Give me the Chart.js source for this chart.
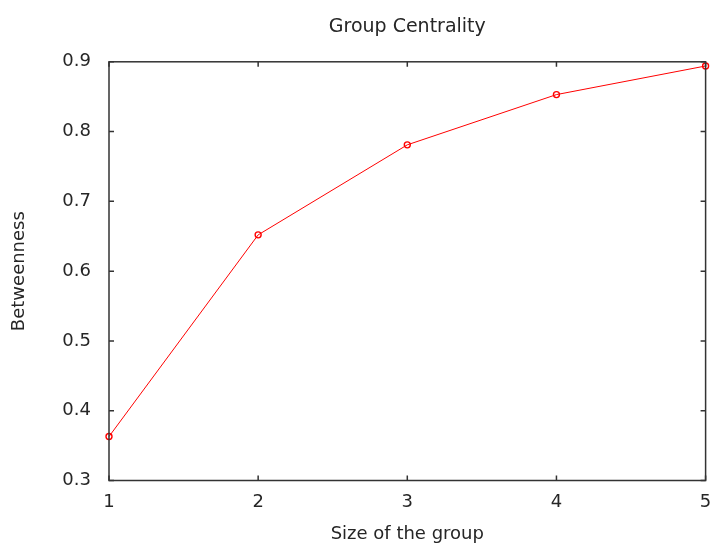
<!DOCTYPE html>
<html>
<head>
<meta charset="utf-8">
<script src="https://cdn.jsdelivr.net/npm/chart.js@4"></script>
<style>
  html, body { margin: 0; padding: 0; background: #ffffff; }
  #wrap { width: 711px; height: 543px; }
</style>
</head>
<body>
<div id="wrap"><canvas id="centralityChart"></canvas></div>
<script>
const groupSizes = [1, 2, 3, 4, 5];
const betweenness = [0.363, 0.652, 0.781, 0.853, 0.894];
const xTicks = [1, 2, 3, 4, 5];
const yTicks = [0.3, 0.4, 0.5, 0.6, 0.7, 0.8, 0.9];

const textColor = "#262626";
const frameColor = "#333333";
const fontFamily = "DejaVu Sans";

// gnuplot-style frame with inward ticks on all four sides
const framePlugin = {
  id: "frame",
  afterDraw(chart) {
    const { ctx, chartArea: a, scales } = chart;
    ctx.save();
    ctx.strokeStyle = frameColor;
    ctx.lineWidth = 1.5;
    ctx.strokeRect(a.left, a.top, a.right - a.left, a.bottom - a.top);
    ctx.beginPath();
    xTicks.forEach((v) => {
      const px = scales.x.getPixelForValue(v);
      ctx.moveTo(px, a.bottom);
      ctx.lineTo(px, a.bottom - 5);
      ctx.moveTo(px, a.top);
      ctx.lineTo(px, a.top + 5);
    });
    yTicks.forEach((v) => {
      const py = scales.y.getPixelForValue(v);
      ctx.moveTo(a.left, py);
      ctx.lineTo(a.left + 5, py);
      ctx.moveTo(a.right, py);
      ctx.lineTo(a.right - 5, py);
    });
    ctx.stroke();
    ctx.restore();
  },
};

new Chart(document.getElementById("centralityChart"), {
  type: "line",
  data: {
    datasets: [
      {
        data: groupSizes.map((x, i) => ({ x: x, y: betweenness[i] })),
        borderColor: "#ff0000",
        borderWidth: 1,
        pointStyle: "circle",
        pointRadius: 3,
        pointBorderWidth: 1.4,
        pointBorderColor: "#ff0000",
        pointBackgroundColor: "rgba(0,0,0,0)",
        tension: 0,
        clip: false,
      },
    ],
  },
  options: {
    responsive: true,
    maintainAspectRatio: false,
    animation: false,
    layout: { padding: { left: 0, right: 5, top: 0, bottom: 0 } },
    plugins: {
      legend: { display: false },
      tooltip: { enabled: false },
      title: {
        display: true,
        fullSize: false,
        text: "Group Centrality",
        color: textColor,
        font: { family: fontFamily, size: 19, weight: "normal" },
        padding: { top: 16, bottom: 23 },
      },
    },
    scales: {
      x: {
        type: "linear",
        min: 1,
        max: 5,
        afterFit: (s) => {
          s.height = 62.5;
          s.paddingLeft = 0;
          s.paddingRight = 0;
        },
        afterBuildTicks: (s) => { s.ticks = xTicks.map((v) => ({ value: v })); },
        grid: { display: false },
        border: { display: false },
        ticks: {
          color: textColor,
          padding: 3,
          font: { family: fontFamily, size: 18 },
        },
        title: {
          display: true,
          text: "Size of the group",
          color: textColor,
          font: { family: fontFamily, size: 18 },
          padding: { top: 0, bottom: -2 },
        },
      },
      y: {
        type: "linear",
        min: 0.3,
        max: 0.9,
        afterFit: (s) => {
          s.width = 109;
          s.paddingTop = 0;
          s.paddingBottom = 0;
        },
        afterBuildTicks: (s) => { s.ticks = yTicks.map((v) => ({ value: v })); },
        grid: { display: false },
        border: { display: false },
        ticks: {
          color: textColor,
          padding: 10,
          font: { family: fontFamily, size: 18 },
          callback: (v) => v.toFixed(1),
        },
        title: {
          display: true,
          text: "Betweenness",
          color: textColor,
          font: { family: fontFamily, size: 18 },
          padding: { top: 9, bottom: 0 },
        },
      },
    },
  },
  plugins: [framePlugin],
});
</script>
</body>
</html>
